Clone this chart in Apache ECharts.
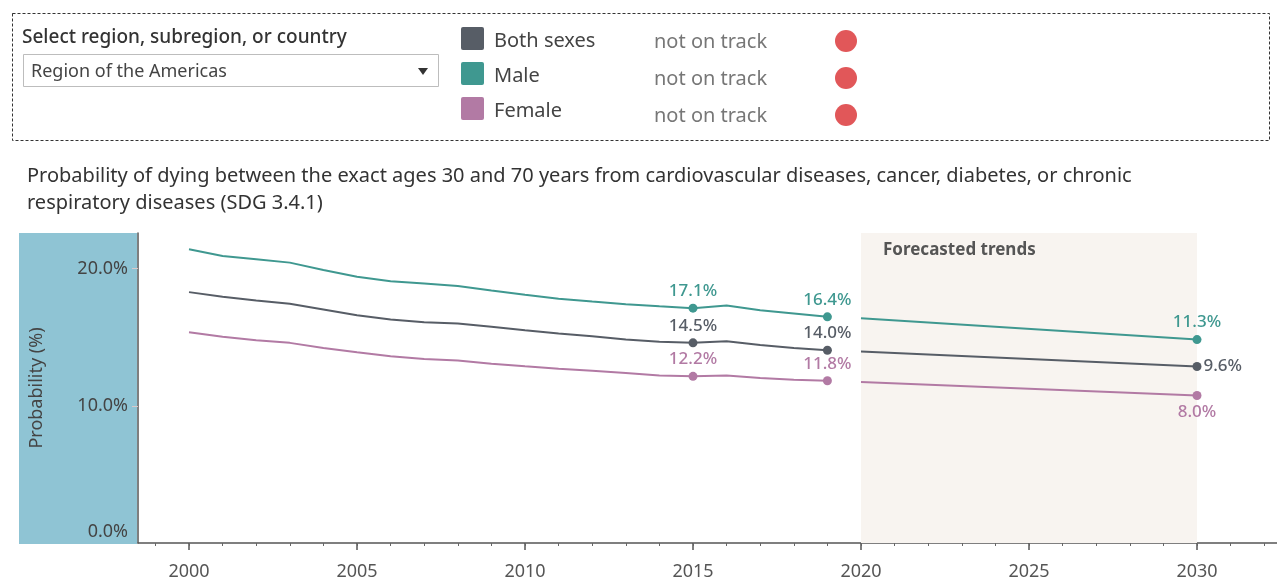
<!DOCTYPE html>
<html>
<head>
<meta charset="utf-8">
<script src="https://cdn.jsdelivr.net/npm/echarts@6/dist/echarts.min.js"></script>
<style>
html,body{margin:0;padding:0;background:#fff;}
#main{width:1277px;height:581px;}
</style>
</head>
<body>
<div id="main"></div>
<script>
// ---------- data ----------
const histYears = [2000,2001,2002,2003,2004,2005,2006,2007,2008,2009,2010,2011,2012,2013,2014,2015,2016,2017,2018,2019];
const maleHist   = [21.41,20.92,20.68,20.44,19.90,19.41,19.09,18.92,18.73,18.41,18.10,17.80,17.60,17.41,17.26,17.12,17.32,16.97,16.73,16.49];
const bothHist   = [18.29,17.95,17.68,17.44,17.02,16.60,16.29,16.09,16.00,15.76,15.51,15.27,15.07,14.83,14.68,14.59,14.70,14.44,14.22,14.05];
const femaleHist = [15.36,15.03,14.78,14.59,14.22,13.90,13.61,13.41,13.31,13.07,12.88,12.71,12.56,12.39,12.22,12.15,12.22,12.03,11.90,11.83];

const forecastYears  = [2020, 2030];
const maleForecast   = [16.39, 14.83];
const bothForecast   = [13.97, 12.87];
const femaleForecast = [11.73, 10.75];

const histLabelYears   = [2015, 2019];
const maleHistLabels   = ['17.1%', '16.4%'];
const bothHistLabels   = ['14.5%', '14.0%'];
const femaleHistLabels = ['12.2%', '11.8%'];
const forecastLabelYear = 2030;
const maleEndLabel   = '11.3%';
const bothEndLabel   = '9.6%';
const femaleEndLabel = '8.0%';

const seriesNames  = ['Both sexes', 'Male', 'Female'];
const statusLabels = ['not on track', 'not on track', 'not on track'];

const xMajorTicks = [2000, 2005, 2010, 2015, 2020, 2025, 2030];
const xMinorTicks = [1999,2000,2001,2002,2003,2004,2005,2006,2007,2008,2009,2010,2011,2012,2013,2014,2015,2016,2017,2018,2019,2020,2021,2022,2023,2024,2025,2026,2027,2028,2029,2030,2031,2032];
const yTicks = [0, 10, 20];

const forecastPeriod = [2020, 2030];
const forecastTitle = 'Forecasted trends';
const chartTitle = 'Probability of dying between the exact ages 30 and 70 years from cardiovascular diseases, cancer, diabetes, or chronic\nrespiratory diseases (SDG 3.4.1)';
const filterLabel = 'Select region, subregion, or country';
const filterValue = 'Region of the Americas';
const yAxisName = 'Probability (%)';

// ---------- styles ----------
const FONT = '"Noto Sans", "Open Sans", sans-serif';
const colors = { both: '#575d66', male: '#3f9890', female: '#b27aa4' };
const legendColors = [colors.both, colors.male, colors.female];

function buildSeriesData(years, values, labelYears, labelTexts, color, pos, dist) {
  return years.map((yr, i) => {
    const k = labelYears.indexOf(yr);
    if (k >= 0) {
      return {
        value: [yr, values[i]],
        symbol: 'circle',
        symbolSize: 9,
        label: {
          show: true,
          position: pos[k] || 'top',
          distance: dist,
          formatter: labelTexts[k],
          color: color,
          fontSize: 17,
          fontWeight: 500,
          fontFamily: FONT
        }
      };
    }
    return { value: [yr, values[i]], symbol: 'none' };
  });
}

function lineSeries(name, data, color) {
  return {
    name: name,
    type: 'line',
    xAxisIndex: 0,
    yAxisIndex: 0,
    showSymbol: true,
    symbol: 'none',
    data: data,
    lineStyle: { color: color, width: 2 },
    itemStyle: { color: color },
    emphasis: { disabled: true },
    z: 5
  };
}

const series = [
  lineSeries('Male', buildSeriesData(histYears, maleHist, histLabelYears, maleHistLabels, colors.male, ['top','top'], 4), colors.male),
  lineSeries('Both sexes', buildSeriesData(histYears, bothHist, histLabelYears, bothHistLabels, colors.both, ['top','top'], 4), colors.both),
  lineSeries('Female', buildSeriesData(histYears, femaleHist, histLabelYears, femaleHistLabels, colors.female, ['top','top'], 4), colors.female),
  lineSeries('Male forecast', buildSeriesData(forecastYears, maleForecast, [forecastLabelYear], [maleEndLabel], colors.male, ['top'], 4), colors.male),
  lineSeries('Both forecast', buildSeriesData(forecastYears, bothForecast, [forecastLabelYear], [bothEndLabel], colors.both, ['right'], 2), colors.both),
  lineSeries('Female forecast', buildSeriesData(forecastYears, femaleForecast, [forecastLabelYear], [femaleEndLabel], colors.female, ['bottom'], 4), colors.female)
];

// forecast shaded area
series.push({
  name: 'forecast-area',
  type: 'line',
  data: [],
  silent: true,
  z: 1,
  markArea: {
    silent: true,
    itemStyle: { color: '#f8f4f0' },
    label: {
      show: true,
      position: [22, 9],
      formatter: forecastTitle,
      color: '#555',
      fontSize: 17,
      fontWeight: 'bold',
      fontFamily: FONT
    },
    data: [[{ xAxis: forecastPeriod[0] }, { xAxis: forecastPeriod[1] }]]
  }
});

// ---------- graphics (filter panel / legend) ----------
const graphics = [
  { type: 'rect', z: -1, silent: true, shape: { x: 19, y: 233, width: 118, height: 311 }, style: { fill: '#8fc4d4' } },
  { type: 'rect', silent: true, shape: { x: 12.5, y: 13.5, width: 1257, height: 127 }, style: { fill: 'none', stroke: '#333', lineWidth: 1, lineDash: [3, 2] } },
  { type: 'text', silent: true, style: { text: filterLabel, x: 22, y: 38, fill: '#333', fontSize: 19, fontWeight: 500, fontFamily: FONT, verticalAlign: 'middle' } },
  { type: 'rect', silent: true, shape: { x: 23.5, y: 54.5, width: 415, height: 32 }, style: { fill: '#fff', stroke: '#bdbdbd', lineWidth: 1 } },
  { type: 'text', silent: true, style: { text: filterValue, x: 31, y: 71.5, fill: '#444', fontSize: 18, fontFamily: FONT, verticalAlign: 'middle' } },
  { type: 'polygon', silent: true, shape: { points: [[418, 68], [428, 68], [423, 75]] }, style: { fill: '#333' } }
];
const legendSquareY = [27, 62, 97];
const legendTextY = [41.5, 76.5, 111.5];
const statusTextY = [42.5, 79.5, 116.5];
const dotY = [41, 78, 115];
seriesNames.forEach((n, i) => {
  graphics.push({ type: 'rect', silent: true, shape: { x: 461, y: legendSquareY[i], width: 23, height: 23, r: 2 }, style: { fill: legendColors[i] } });
  graphics.push({ type: 'text', silent: true, style: { text: n, x: 494, y: legendTextY[i], fill: '#444', fontSize: 20, fontFamily: FONT, verticalAlign: 'middle' } });
  graphics.push({ type: 'text', silent: true, style: { text: statusLabels[i], x: 654, y: statusTextY[i], fill: '#777', fontSize: 20, fontFamily: FONT, verticalAlign: 'middle' } });
  graphics.push({ type: 'circle', silent: true, shape: { cx: 846, cy: dotY[i], r: 11 }, style: { fill: '#e15759' } });
});

// ---------- chart ----------
const chart = echarts.init(document.getElementById('main'), null, { renderer: 'canvas' });
chart.setOption({
  animation: false,
  backgroundColor: '#fff',
  textStyle: { fontFamily: FONT },
  title: {
    text: chartTitle,
    left: 27,
    top: 163,
    padding: 0,
    textStyle: { fontSize: 20, fontWeight: 'normal', color: '#333', lineHeight: 27, fontFamily: FONT }
  },
  grid: { left: 138, right: 0, top: 233, bottom: 37, containLabel: false },
  xAxis: [
    {
      type: 'value',
      min: 1998.482,
      max: 2032.381,
      axisLine: { show: true, lineStyle: { color: '#555', width: 1.5 } },
      axisTick: { show: true, customValues: xMajorTicks, length: 7, lineStyle: { color: '#555', width: 1.5 } },
      axisLabel: { customValues: xMajorTicks, margin: 20, fontSize: 18, color: '#555', fontFamily: FONT, formatter: v => String(v) },
      splitLine: { show: false },
      minorTick: { show: false }
    },
    {
      type: 'value',
      gridIndex: 0,
      position: 'bottom',
      min: 1998.482,
      max: 2032.381,
      axisLine: { show: false },
      axisTick: { show: true, customValues: xMinorTicks, length: 3, lineStyle: { color: '#666', width: 1 } },
      axisLabel: { show: false },
      splitLine: { show: false }
    }
  ],
  yAxis: {
    type: 'value',
    min: 0,
    max: 22.6,
    interval: 10,
    name: yAxisName,
    nameLocation: 'middle',
    nameGap: 92,
    nameTextStyle: { fontSize: 18, color: '#444', fontFamily: FONT },
    axisLine: { show: true, lineStyle: { color: '#555', width: 1.5 } },
    axisTick: { show: true, customValues: [10, 20], length: 6, lineStyle: { color: '#d9c9c9' } },
    axisLabel: {
      customValues: yTicks,
      margin: 10,
      fontSize: 18,
      color: '#444',
      fontFamily: FONT,
      lineHeight: 22,
      formatter: v => (v === 0 ? '0.0%\n ' : (v % 10 === 0 ? v.toFixed(1) + '%' : ''))
    },
    splitLine: { show: true, showMinLine: false, showMaxLine: false, lineStyle: { color: '#ececec', width: 1 } }
  },
  graphic: graphics,
  series: series
});
</script>
</body>
</html>
